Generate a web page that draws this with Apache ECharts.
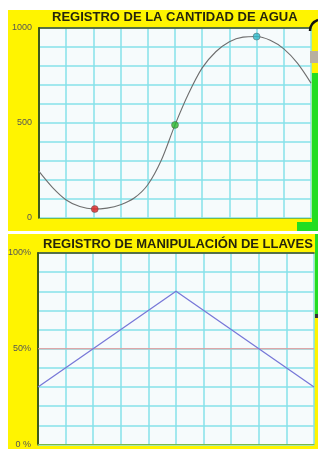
<!DOCTYPE html>
<html><head><meta charset="utf-8">
<script src="https://cdn.jsdelivr.net/npm/echarts@6/dist/echarts.min.js"></script>
<style>html,body{margin:0;padding:0;background:#fff}#c{width:318px;height:449px}</style>
</head><body><div id="c"></div>
<script>
// ---- data ----
const title1 = 'REGISTRO DE LA CANTIDAD DE AGUA';
const title2 = 'REGISTRO DE MANIPULACIÓN DE LLAVES';
// top chart: water quantity curve (x in 0..100 of width, value 0..1000)
const waterX = [0, 5, 10, 15, 20, 25, 30, 35, 40, 45, 50, 55, 60, 65, 70, 75, 80, 85, 90, 95, 100];
const waterY = [245, 160, 95, 60, 47, 52, 70, 105, 175, 305, 490, 655, 790, 875, 928, 952, 955, 935, 890, 815, 710];
const markX = [20.5, 50, 80];
const markY = [47, 490, 955];
const markColors = ['#e02020', '#2eb82e', '#30b8c8'];
const waterTicks = {0: '0', 500: '500', 1000: '1000'};
// bottom chart: valve manipulation (%)
const valveX = [0, 50, 100];
const valveY = [30, 80, 30];
const refX = [0, 100];
const refY = [50, 50];
const valveTicks = {0: '0 %', 50: '50%', 100: '100%'};

const zip = (a, b) => a.map((v, i) => [v, b[i]]);

const cyan = '#86e2ea';
const gridCommon = {show: true, backgroundColor: '#f6fbfc', borderWidth: 0};
function xAxes(gi) {
  return [
    {type: 'value', gridIndex: gi, min: 0, max: 100, interval: 10,
     axisLine: {show: true, lineStyle: {color: '#7ab84a', width: 1}},
     axisTick: {show: false}, axisLabel: {show: false},
     splitLine: {show: true, lineStyle: {color: cyan, width: 1.5}}},
    {type: 'value', gridIndex: gi, position: 'top', min: 0, max: 100,
     axisLine: {show: true, onZero: false, lineStyle: {color: '#3d4a1c', width: 1.5}},
     axisTick: {show: false}, axisLabel: {show: false}, splitLine: {show: false}}
  ];
}
function yAxis(gi, max, interval, ticks) {
  return {type: 'value', gridIndex: gi, min: 0, max: max, interval: interval,
    axisLine: {show: true, lineStyle: {color: '#3d5a1c', width: 2}},
    axisTick: {show: false},
    axisLabel: {margin: 7, color: '#555', fontSize: 9, fontFamily: 'Liberation Sans',
      formatter: v => (ticks[v] !== undefined ? ticks[v] : '')},
    splitLine: {show: true, lineStyle: {color: cyan, width: 1.5}}};
}

const chart = echarts.init(document.getElementById('c'));
chart.setOption({
  animation: false,
  backgroundColor: '#ffffff',
  title: [
    {text: title1, left: 52, top: 11, padding: 0,
     textStyle: {fontFamily: 'Liberation Sans', fontWeight: 'bold', fontSize: 13, color: '#25250c'}},
    {text: title2, left: 43, top: 238, padding: 0,
     textStyle: {fontFamily: 'Liberation Sans', fontWeight: 'bold', fontSize: 13, color: '#25250c'}}
  ],
  grid: [
    Object.assign({left: 39, right: 7, top: 28, bottom: 231}, gridCommon),
    Object.assign({left: 38, right: 4, top: 253, bottom: 2}, gridCommon)
  ],
  xAxis: xAxes(0).concat(xAxes(1)),
  yAxis: [yAxis(0, 1000, 100, waterTicks), yAxis(1, 100, 10, valveTicks)],
  series: [
    {type: 'line', xAxisIndex: 0, yAxisIndex: 0, data: zip(waterX, waterY), smooth: 0.3,
     showSymbol: false, lineStyle: {color: '#6e6e6e', width: 1.1}},
    {type: 'scatter', xAxisIndex: 0, yAxisIndex: 0, symbolSize: 7, z: 5,
     data: zip(markX, markY).map((p, i) => ({value: p, itemStyle: {color: markColors[i], borderColor: '#444', borderWidth: 0.5}}))},
    {type: 'line', xAxisIndex: 2, yAxisIndex: 1, data: zip(refX, refY),
     showSymbol: false, lineStyle: {color: '#f09090', width: 1.2}},
    {type: 'line', xAxisIndex: 2, yAxisIndex: 1, data: zip(valveX, valveY),
     showSymbol: false, lineStyle: {color: '#7878d8', width: 1.3}}
  ],
  graphic: [
    {type: 'rect', z: -10, shape: {x: 8, y: 10, width: 310, height: 221}, style: {fill: '#fff400'}},
    {type: 'rect', z: -10, shape: {x: 8, y: 234, width: 310, height: 215}, style: {fill: '#fff400'}},
    {type: 'rect', z: 10, shape: {x: 312, y: 73, width: 6, height: 158}, style: {fill: '#22dd22'}},
    {type: 'rect', z: 10, shape: {x: 297, y: 222, width: 21, height: 9}, style: {fill: '#22dd22'}},
    {type: 'rect', z: 10, shape: {x: 310, y: 51, width: 8, height: 12}, style: {fill: '#b8b0a0'}},
    {type: 'bezierCurve', z: 10, shape: {x1: 310, y1: 31, x2: 318, y2: 20, cpx1: 310, cpy1: 23}, style: {stroke: '#111', lineWidth: 2.5, fill: null}},
    {type: 'rect', z: 10, shape: {x: 315, y: 234, width: 3, height: 80}, style: {fill: '#22dd22'}},
    {type: 'rect', z: 10, shape: {x: 315, y: 314, width: 3, height: 4}, style: {fill: '#333'}}
  ]
});
</script></body></html>
